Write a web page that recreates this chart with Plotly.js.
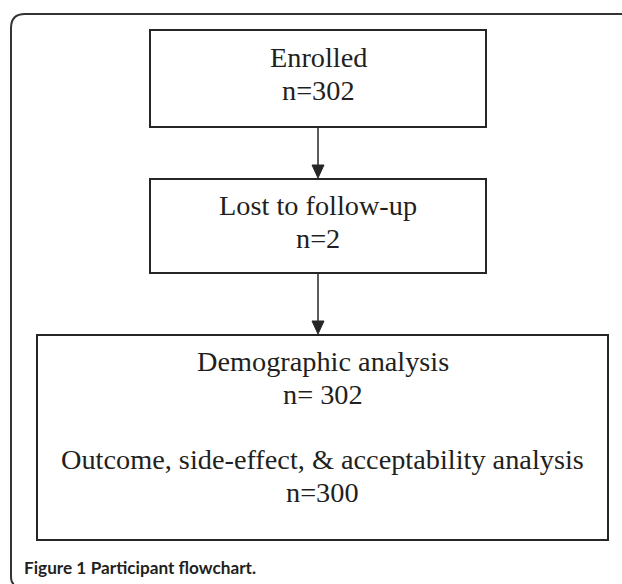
<!DOCTYPE html>
<html>
<head>
<meta charset="utf-8">
<script src="https://cdn.plot.ly/plotly-3.0.1.min.js"></script>
<style>html,body{margin:0;padding:0;background:#fff;}#chart{width:622px;height:584px;}</style>
</head>
<body>
<div id="chart"></div>
<script>
// ---- data ----
const stageNames = ["Enrolled", "Lost to follow-up", "Demographic analysis", "Outcome, side-effect, & acceptability analysis"];
const stageCounts = ["n=302", "n=2", "n= 302", "n=300"];
const captionLabel = "Figure 1";
const captionTitle = "Participant flowchart.";

// ---- layout geometry (positions only) ----
const W = 622, H = 584;
const boxes = [
  {x0: 150, x1: 486, y0: 30, y1: 127, lines: [[0, 65], [1, 98]]},
  {x0: 150, x1: 486, y0: 179, y1: 273, lines: [[0, 213], [1, 246]]},
  {x0: 37, x1: 608, y0: 335, y1: 540, lines: [[0, 369], [1, 402], [2, 467], [3, 500]]}
];
const lineColor = "#262626";
const textColor = "#231f20";
const serif = "Liberation Serif, Times New Roman, serif";
const fsz = 28.3;

const shapes = [];
const annotations = [];

// outer frame (rounded top-left corner)
shapes.push({type: "path", xref: "x", yref: "y",
  path: "M 622 14 H 25 Q 11 14 11 28 V 576 Q 11 583 14 584",
  line: {color: "#333333", width: 2}});

// boxes
boxes.forEach(b => {
  shapes.push({type: "rect", xref: "x", yref: "y", x0: b.x0, x1: b.x1, y0: b.y0, y1: b.y1,
    line: {color: lineColor, width: 2}, fillcolor: "rgba(0,0,0,0)"});
});

// text in boxes
const texts = [
  [stageNames[0], stageCounts[0]],
  [stageNames[1], stageCounts[1]],
  [stageNames[2], stageCounts[2], stageNames[3], stageCounts[3]]
];
boxes.forEach((b, i) => {
  const cx = (b.x0 + b.x1) / 2;
  b.lines.forEach(([k, base]) => {
    annotations.push({xref: "x", yref: "y", x: cx, y: base - 8, xanchor: "center", yanchor: "middle",
      text: texts[i][k], showarrow: false, font: {family: serif, size: fsz, color: textColor}});
  });
});

// arrows between boxes
for (let i = 0; i < boxes.length - 1; i++) {
  const a = boxes[i], b = boxes[i + 1];
  const cx = (a.x0 + a.x1) / 2;
  const tip = b.y0 - 1, headH = 13, headW = 6;
  shapes.push({type: "line", xref: "x", yref: "y", x0: cx, x1: cx, y0: a.y1, y1: tip - headH + 2,
    line: {color: lineColor, width: 1.5}});
  shapes.push({type: "path", xref: "x", yref: "y",
    path: `M ${cx - headW} ${tip - headH} L ${cx + headW} ${tip - headH} L ${cx} ${tip} Z`,
    fillcolor: lineColor, line: {color: lineColor, width: 1}});
}

// caption
annotations.push({xref: "x", yref: "y", x: 22, y: 567, xanchor: "left", yanchor: "middle", showarrow: false,
  text: "<b>" + captionLabel + "</b> <b>" + captionTitle + "</b>",
  font: {family: "Lato, Open Sans, sans-serif", size: 17.2, color: "#231f20"}});

const layout = {
  width: W, height: H,
  margin: {l: 0, r: 0, t: 0, b: 0, pad: 0},
  paper_bgcolor: "#ffffff", plot_bgcolor: "#ffffff",
  xaxis: {range: [0, W], visible: false, fixedrange: true},
  yaxis: {range: [H, 0], visible: false, fixedrange: true},
  showlegend: false,
  shapes: shapes,
  annotations: annotations
};

Plotly.newPlot("chart", [{x: [], y: [], type: "scatter", mode: "markers", hoverinfo: "skip"}], layout, {displayModeBar: false, staticPlot: true});
</script>
</body>
</html>
